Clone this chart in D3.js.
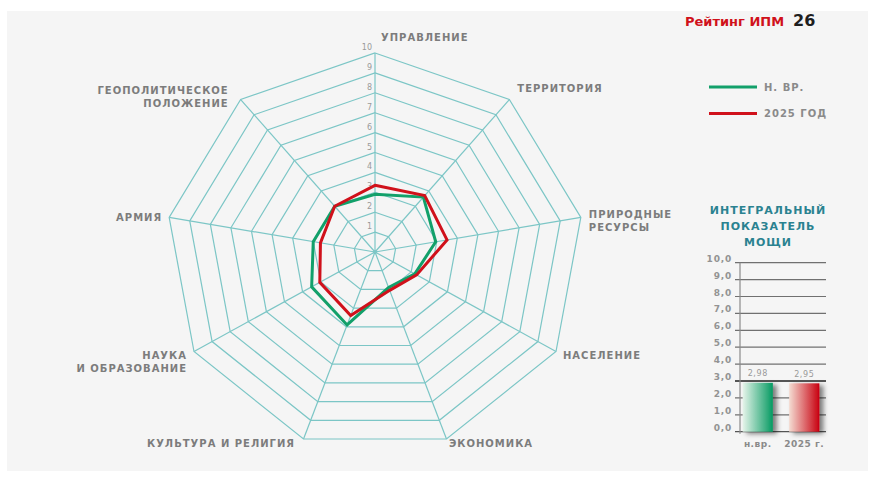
<!DOCTYPE html>
<html>
<head>
<meta charset="utf-8">
<script src="https://cdn.jsdelivr.net/npm/d3@7"></script>
<style>
  body { margin: 0; background: #fff; }
  text { font-family: "DejaVu Sans", sans-serif; }
</style>
</head>
<body>
<script>
var width = 875;
var height = 479;

// data
var axes = ["УПРАВЛЕНИЕ", "ТЕРРИТОРИЯ", "ПРИРОДНЫЕ|РЕСУРСЫ", "НАСЕЛЕНИЕ", "ЭКОНОМИКА",
            "КУЛЬТУРА И РЕЛИГИЯ", "НАУКА|И ОБРАЗОВАНИЕ", "АРМИЯ", "ГЕОПОЛИТИЧЕСКОЕ|ПОЛОЖЕНИЕ"];
var now = [2.9, 3.6, 2.95, 2.2, 1.9, 3.9, 3.5, 3.0, 3.0];
var y2025 = [3.35, 3.7, 3.5, 2.3, 2.05, 3.4, 3.05, 2.65, 3.0];
var seriesNames = ["Н. ВР.", "2025 ГОД"];
var ringLevels = [1, 2, 3, 4, 5, 6, 7, 8, 9, 10];

var barCats = ["н.вр.", "2025 г."];
var barValues = [2.98, 2.95];
var barLabels = ["2,98", "2,95"];
var barTicks = [0, 1, 2, 3, 4, 5, 6, 7, 8, 9, 10];

var gridColor = "#7cc6c6";
var greenC = "#12a06a";
var redC = "#d0111b";
var labelGray = "#7c7c7c";

var svg = d3.select("body").append("svg")
    .attr("width", width)
    .attr("height", height);

var defs = svg.append("defs");
function grad(id, c0, c1) {
    var g = defs.append("linearGradient").attr("id", id)
        .attr("x1", "0%").attr("x2", "100%").attr("y1", "0%").attr("y2", "0%");
    g.append("stop").attr("offset", "0%").attr("stop-color", c0);
    g.append("stop").attr("offset", "100%").attr("stop-color", c1);
}
grad("gGreen", "#e6f4ea", "#069a62");
grad("gRed", "#f4dcd2", "#c8000f");
var f = defs.append("filter").attr("id", "shadow")
    .attr("x", "-20%").attr("y", "-20%").attr("width", "170%").attr("height", "150%");
f.append("feDropShadow").attr("dx", 4).attr("dy", 2).attr("stdDeviation", 2.5)
    .attr("flood-color", "#000").attr("flood-opacity", 0.5);

// panel
svg.append("rect").attr("x", 7).attr("y", 11).attr("width", 861).attr("height", 460)
    .attr("fill", "#f5f5f5");

// radar
var cx = 375, cy = 252;
var rx = d3.scaleLinear().domain([0, 10]).range([0, 209]);
var ry = d3.scaleLinear().domain([0, 10]).range([0, 199]);
var angle = d3.scaleLinear().domain([0, axes.length]).range([0, 2 * Math.PI]);

function pt(i, v) {
    var a = angle(i);
    return [cx + Math.sin(a) * rx(v), cy - Math.cos(a) * ry(v)];
}

var radar = svg.append("g").attr("id", "radar");
var line = d3.line().curve(d3.curveLinearClosed);

radar.selectAll(".ring")
    .data(ringLevels)
    .enter()
    .append("path")
    .attr("class", "ring")
    .attr("d", function (lv) {
        return line(axes.map(function (a, i) { return pt(i, lv); }));
    })
    .attr("fill", "none")
    .attr("stroke", gridColor)
    .attr("stroke-width", 1.2);

radar.selectAll(".spoke")
    .data(axes)
    .enter()
    .append("line")
    .attr("class", "spoke")
    .attr("x1", cx).attr("y1", cy)
    .attr("x2", function (d, i) { return pt(i, 10)[0]; })
    .attr("y2", function (d, i) { return pt(i, 10)[1]; })
    .attr("stroke", gridColor)
    .attr("stroke-width", 1.2);

radar.append("circle").attr("cx", cx).attr("cy", cy).attr("r", 2).attr("fill", gridColor);

radar.selectAll(".ringnum")
    .data(ringLevels)
    .enter()
    .append("text")
    .attr("class", "ringnum")
    .attr("x", cx - 3)
    .attr("y", function (lv) { return cy - ry(lv) - 3; })
    .attr("text-anchor", "end")
    .attr("font-size", 8)
    .attr("fill", "#9a9a9a")
    .text(function (lv) { return lv; });

// axis labels: offset from spoke ends
var labelOff = [[6, -16], [8, -11], [8, -3], [7, 3.5], [2.5, 5], [-8.5, 5], [-7, 4], [-7, 0], [-12, -9]];
radar.selectAll(".axlabel")
    .data(axes)
    .enter()
    .append("text")
    .attr("class", "axlabel")
    .attr("font-size", 10)
    .attr("font-weight", "bold")
    .attr("letter-spacing", 1)
    .attr("fill", labelGray)
    .attr("text-anchor", function (d, i) { return Math.sin(angle(i)) < -0.01 ? "end" : "start"; })
    .each(function (d, i) {
        var p = pt(i, 10);
        var t = d3.select(this);
        d.split("|").forEach(function (s, k) {
            t.append("tspan")
                .attr("x", p[0] + labelOff[i][0])
                .attr("y", p[1] + labelOff[i][1] + 13 * k)
                .attr("dy", "0.35em")
                .text(s);
        });
    });

var series = [now, y2025];
var colors = [greenC, redC];
radar.selectAll(".series")
    .data(series)
    .enter()
    .append("path")
    .attr("class", "series")
    .attr("d", function (vals) {
        return line(vals.map(function (v, i) { return pt(i, v); }));
    })
    .attr("fill", "none")
    .attr("stroke", function (d, i) { return colors[i]; })
    .attr("stroke-width", 3)
    .attr("stroke-linejoin", "miter");

// title
var title = svg.append("text").attr("x", 685).attr("y", 26)
    .attr("font-weight", "bold");
title.append("tspan").attr("font-size", 13).attr("fill", redC).text("Рейтинг ИПМ");
title.append("tspan").attr("font-size", 16).attr("fill", "#1e1e1e").attr("dx", 9).text("26");

// legend
var legend = svg.append("g").selectAll("g")
    .data(seriesNames)
    .enter()
    .append("g")
    .attr("transform", function (d, i) { return "translate(709," + (87 + i * 26.5) + ")"; });
legend.append("line").attr("x1", 0).attr("x2", 48)
    .attr("stroke", function (d, i) { return colors[i]; })
    .attr("stroke-width", 3);
legend.append("text").attr("x", 55).attr("dy", "0.35em")
    .attr("font-size", 10).attr("font-weight", "bold").attr("letter-spacing", 1)
    .attr("fill", "#8a8a8a")
    .text(function (d) { return d; });

// integral bar chart
var bt = svg.append("text").attr("text-anchor", "middle")
    .attr("font-size", 11).attr("font-weight", "bold").attr("letter-spacing", 1)
    .attr("fill", "#2a8290");
["ИНТЕГРАЛЬНЫЙ", "ПОКАЗАТЕЛЬ", "МОЩИ"].forEach(function (s, k) {
    bt.append("tspan").attr("x", 768).attr("y", 210 + 16 * k).attr("dy", "0.35em").text(s);
});

var by = d3.scaleLinear().domain([0, 10]).range([431.7, 262.7]);
var bx = d3.scaleBand().domain(barCats).range([738, 824]).paddingInner(0.35).paddingOuter(0.1);

var bars = svg.append("g");
bars.selectAll(".bgrid")
    .data(barTicks)
    .enter()
    .append("line")
    .attr("class", "bgrid")
    .attr("x1", 735).attr("x2", 826)
    .attr("y1", function (d) { return by(d); })
    .attr("y2", function (d) { return by(d); })
    .attr("stroke", function (d) { return d === 3 || d === 0 ? "#555" : "#707070"; })
    .attr("stroke-width", function (d) { return d === 3 ? 2 : 1.2; });

bars.append("line")
    .attr("x1", 740).attr("x2", 740)
    .attr("y1", by(10)).attr("y2", by(0) + 2)
    .attr("stroke", "#8a8a8a").attr("stroke-width", 1.2);

bars.selectAll(".btick")
    .data(barTicks)
    .enter()
    .append("text")
    .attr("class", "btick")
    .attr("x", 732)
    .attr("y", function (d) { return by(d) - 1; })
    .attr("text-anchor", "end")
    .attr("font-size", 9).attr("font-weight", "bold").attr("letter-spacing", 0.8)
    .attr("fill", "#939393")
    .text(function (d) { return d3.format(".1f")(d).replace(".", ","); });

var fills = ["url(#gGreen)", "url(#gRed)"];
bars.selectAll(".bar")
    .data(barValues)
    .enter()
    .append("rect")
    .attr("class", "bar")
    .attr("x", function (d, i) { return bx(barCats[i]); })
    .attr("y", function (d) { return by(d) + 1.5; })
    .attr("width", bx.bandwidth())
    .attr("height", function (d) { return by(0) - by(d) - 1.5; })
    .attr("fill", function (d, i) { return fills[i]; })
    .attr("filter", "url(#shadow)");

bars.selectAll(".bval")
    .data(barLabels)
    .enter()
    .append("text")
    .attr("class", "bval")
    .attr("x", function (d, i) { return bx(barCats[i]) + bx.bandwidth() / 2; })
    .attr("y", function (d, i) { return by(barValues[i]) - 5; })
    .attr("text-anchor", "middle")
    .attr("font-size", 8).attr("letter-spacing", 0.6)
    .attr("fill", "#9a9a9a")
    .text(function (d) { return d; });

bars.selectAll(".bcat")
    .data(barCats)
    .enter()
    .append("text")
    .attr("class", "bcat")
    .attr("x", function (d) { return bx(d) + bx.bandwidth() / 2; })
    .attr("y", 444)
    .attr("dy", "0.35em")
    .attr("text-anchor", "middle")
    .attr("font-size", 9).attr("font-weight", "bold").attr("letter-spacing", 0.5)
    .attr("fill", "#8a8a8a")
    .text(function (d) { return d; });
</script>
</body>
</html>
